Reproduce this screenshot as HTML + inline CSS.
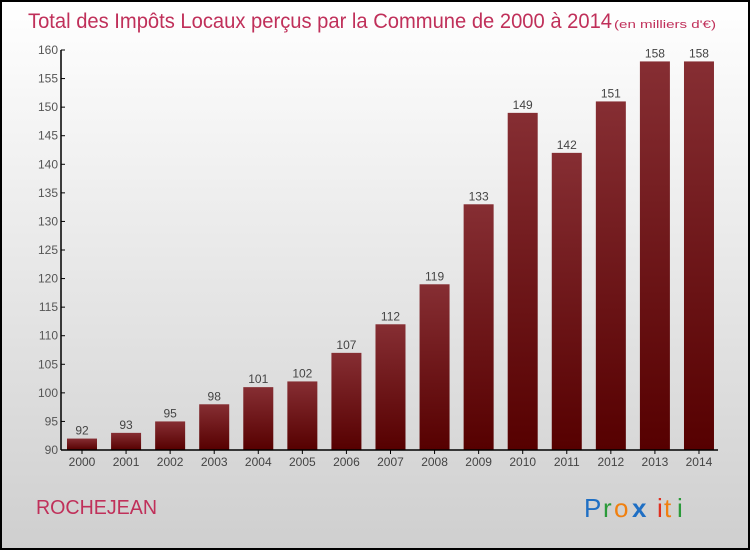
<!DOCTYPE html>
<html><head><meta charset="utf-8"><style>
body{margin:0}
#wrap{position:relative;width:750px;height:550px;box-sizing:border-box;border:2px solid #000;background:linear-gradient(#ffffff,#cfcfcf);font-family:"Liberation Sans",sans-serif;overflow:hidden}
</style></head><body>
<div id="wrap">
<svg id="chart" width="750" height="550" style="position:absolute;left:-2px;top:-2px">
<defs><linearGradient id="bg" x1="0" y1="0" x2="0" y2="1"><stop offset="0" stop-color="#862e33"/><stop offset="1" stop-color="#560000"/></linearGradient></defs>
<text x="28" y="28" font-size="21" fill="#c0305a" textLength="584" lengthAdjust="spacingAndGlyphs" style="font-family:'Liberation Sans',sans-serif">Total des Impôts Locaux perçus par la Commune de 2000 à 2014</text>
<text x="614" y="28" font-size="11" fill="#c0305a" textLength="102" lengthAdjust="spacingAndGlyphs" style="font-family:'Liberation Sans',sans-serif">(en milliers d'€)</text>
<text x="36" y="514" font-size="20" fill="#c0305a" textLength="121" lengthAdjust="spacingAndGlyphs" style="font-family:'Liberation Sans',sans-serif">ROCHEJEAN</text>
<g font-size="26" font-family="'Liberation Sans',sans-serif">
<text x="584" y="517" fill="#1f6fc4">P</text><text x="603" y="517" fill="#2a9a3a">r</text><text x="614" y="517" fill="#f08010">o</text><text x="632" y="517" fill="#1f6fc4" font-weight="bold">x</text><text x="657" y="517" fill="#e03020">i</text><text x="664" y="517" fill="#f08010">t</text><text x="677" y="517" fill="#2a9a3a">i</text>
</g>
</svg>
</div>
<script>
const years=["2000","2001","2002","2003","2004","2005","2006","2007","2008","2009","2010","2011","2012","2013","2014"];
const values=[92,93,95,98,101,102,107,112,119,133,149,142,151,158,158];
const ticks=[90,95,100,105,110,115,120,125,130,135,140,145,150,155,160];
const NS="http://www.w3.org/2000/svg";
const svg=document.getElementById('chart');
const x0=82,step=44.07,bw=30,yMin=90,yMax=160,yTop=50,yBot=450;
const xs=i=>x0+i*step;
const ys=v=>yBot-(v-yMin)/(yMax-yMin)*(yBot-yTop);
function mk(t,a){const e=document.createElementNS(NS,t);for(const k in a)e.setAttribute(k,a[k]);svg.appendChild(e);return e;}
values.forEach((v,i)=>{
 const r=mk('rect',{x:xs(i)-bw/2,y:ys(v),width:bw,height:yBot-ys(v),fill:'url(#bg)'});
 
 
 const t=mk('text',{x:xs(i),y:ys(v)-4,'text-anchor':'middle','font-size':'12',fill:'#444'});
 t.textContent=v;
 
 
 const yl=mk('text',{x:xs(i),y:466,'text-anchor':'middle','font-size':'12',fill:'#444'});
 yl.textContent=years[i];
 
 
 const tk=mk('line',{x1:xs(i),x2:xs(i),y1:yBot,y2:yBot+4,stroke:'#000'});
 
 
});
ticks.forEach(v=>{
 const t=mk('text',{x:58,y:ys(v)+4,'text-anchor':'end','font-size':'12',fill:'#555'});
 t.textContent=v;
 
 
 const l=mk('line',{x1:61,x2:65,y1:ys(v),y2:ys(v),stroke:'#000'});
 
 
});
const ya=mk('line',{x1:61,x2:61,y1:yTop,y2:yBot,stroke:'#000','stroke-width':1.5});


const xa=mk('line',{x1:61,x2:718,y1:yBot,y2:yBot,stroke:'#000','stroke-width':1.5});


</script>
</body></html>
